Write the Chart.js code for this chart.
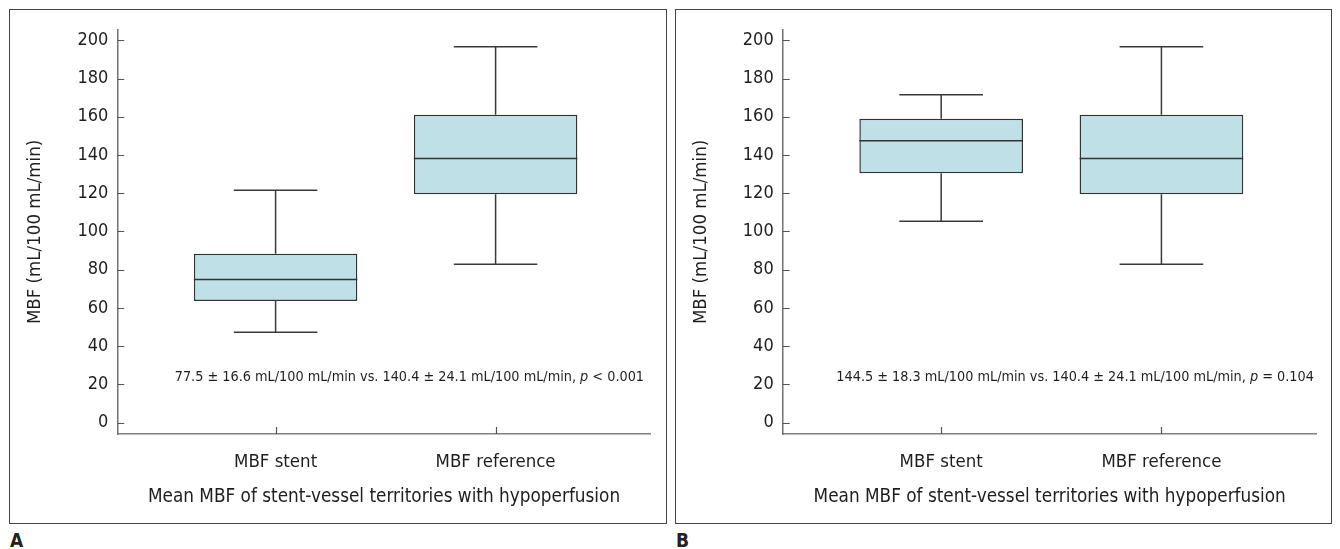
<!DOCTYPE html>
<html>
<head>
<meta charset="utf-8">
<script src="https://cdn.jsdelivr.net/npm/chart.js@4.4.1/dist/chart.umd.min.js"></script>
<style>
    body { margin: 0; width: 1340px; height: 549px; background: #fff; position: relative; overflow: hidden; font-family: "DejaVu Sans Condensed", "DejaVu Sans", sans-serif; }
    .panel { position: absolute; top: 9px; height: 515px; box-sizing: border-box; border: 1px solid #444; }
    .panel canvas { display: block; }
    .tag { position: absolute; top: 529px; font-weight: bold; font-size: 19px; color: #222; }
</style>
</head>
<body>
<div class="panel" style="left: 9px; width: 658px;"><canvas id="graficoA" width="656" height="513"></canvas></div>
<div class="panel" style="left: 675px; width: 657px;"><canvas id="graficoB" width="655" height="513"></canvas></div>
<div class="tag" style="left: 10px;">A</div>
<div class="tag" style="left: 676px;">B</div>

<script>
const categorias = ['MBF stent', 'MBF reference'];
const ticksY = [0, 20, 40, 60, 80, 100, 120, 140, 160, 180, 200];

// painel A
const minA = [47.2, 82.8];
const q1A = [63.6, 119.5];
const medianaA = [74.8, 138.1];
const q3A = [88.3, 161.0];
const maxA = [121.6, 196.6];
const notaA = ['77.5 ± 16.6 mL/100 mL/min vs. 140.4 ± 24.1 mL/100 mL/min, ', 'p', ' < 0.001'];

// painel B
const minB = [105.3, 82.8];
const q1B = [130.4, 119.5];
const medianaB = [147.4, 138.1];
const q3B = [159.0, 161.0];
const maxB = [171.5, 196.6];
const notaB = ['144.5 ± 18.3 mL/100 mL/min vs. 140.4 ± 24.1 mL/100 mL/min, ', 'p', ' = 0.104'];

const fonte = '"DejaVu Sans Condensed", "DejaVu Sans", sans-serif';
const meiaCaixa = 0.3715;
const meiaBarra = 0.19;

// tracinhos para dentro + texto da nota
const extras = {
    id: 'extras',
    afterDraw(chart) {
        const ctx = chart.ctx;
        const area = chart.chartArea;
        const x = chart.scales.x;
        const y = chart.scales.y;

        ctx.save();
        ctx.strokeStyle = '#555';
        ctx.lineWidth = 1.2;
        ctx.beginPath();
        y.ticks.forEach((t, i) => {
            const py = Math.round(y.getPixelForTick(i)) + 0.5;
            ctx.moveTo(area.left, py);
            ctx.lineTo(area.left + 7, py);
        });
        x.ticks.forEach((t, i) => {
            const px = Math.round(x.getPixelForTick(i)) + 0.5;
            ctx.moveTo(px, area.bottom);
            ctx.lineTo(px, area.bottom - 7);
        });
        ctx.stroke();

        const nota = chart.options.plugins.extras.nota;
        const normal = '14.3px ' + fonte;
        const italico = 'italic 14.3px ' + fonte;
        ctx.fillStyle = '#1e1e1e';
        ctx.textBaseline = 'middle';
        ctx.font = normal;
        const w0 = ctx.measureText(nota[0]).width;
        const w2 = ctx.measureText(nota[2]).width;
        ctx.font = italico;
        const w1 = ctx.measureText(nota[1]).width;
        let px = x.getPixelForValue(1.608) - (w0 + w1 + w2) / 2;
        const py = y.getPixelForValue(23.6);
        ctx.font = normal;
        ctx.fillText(nota[0], px, py);
        px += w0;
        ctx.font = italico;
        ctx.fillText(nota[1], px, py);
        px += w1;
        ctx.font = normal;
        ctx.fillText(nota[2], px, py);
        ctx.restore();
    }
};

function grafico(id, min, q1, mediana, q3, max, nota, larguraY, direita) {
    const caixas = categorias.map((c, i) => ({ x: i + 1, y: [q1[i], q3[i]] }));

    const bigodes = [];
    const barras = [];
    const medianas = [];
    categorias.forEach((c, i) => {
        const cx = i + 1;
        bigodes.push({ x: cx, y: q3[i] }, { x: cx, y: max[i] }, { x: cx, y: null });
        bigodes.push({ x: cx, y: q1[i] }, { x: cx, y: min[i] }, { x: cx, y: null });
        barras.push({ x: cx - meiaBarra, y: max[i] }, { x: cx + meiaBarra, y: max[i] }, { x: cx, y: null });
        barras.push({ x: cx - meiaBarra, y: min[i] }, { x: cx + meiaBarra, y: min[i] }, { x: cx, y: null });
        medianas.push({ x: cx - meiaCaixa, y: mediana[i] }, { x: cx + meiaCaixa, y: mediana[i] }, { x: cx, y: null });
    });

    const linha = {
        type: 'line',
        pointRadius: 0,
        borderWidth: 1.5,
        borderColor: '#3a3a3a',
        fill: false,
        tension: 0,
        spanGaps: false,
        order: 1
    };

    new Chart(document.getElementById(id), {
        type: 'bar',
        data: {
            datasets: [
                {
                    data: caixas,
                    backgroundColor: '#bfe0e6',
                    borderColor: '#333',
                    borderWidth: 1.5,
                    borderSkipped: false,
                    categoryPercentage: 1,
                    barPercentage: 0.743,
                    order: 2
                },
                Object.assign({ data: bigodes }, linha),
                Object.assign({ data: barras }, linha),
                Object.assign({ data: medianas }, linha, { borderColor: '#333' })
            ]
        },
        options: {
            responsive: false,
            animation: false,
            layout: { padding: { left: 0, right: direita, top: 15, bottom: 0 } },
            plugins: {
                legend: { display: false },
                tooltip: { enabled: false },
                extras: { nota: nota }
            },
            scales: {
                x: {
                    type: 'linear',
                    min: 0.2805,
                    max: 2.705,
                    offset: false,
                    grid: { display: false, drawTicks: false, offset: false },
                    border: { color: '#808080', width: 1.5 },
                    afterBuildTicks: s => { s.ticks = [{ value: 1 }, { value: 2 }]; },
                    afterFit: s => { s.height = 89; },
                    ticks: {
                        padding: 17,
                        color: '#1e1e1e',
                        font: { family: fonte, size: 18.5 },
                        callback: v => categorias[v - 1]
                    },
                    title: {
                        display: true,
                        text: 'Mean MBF of stent-vessel territories with hypoperfusion',
                        color: '#1e1e1e',
                        font: { family: fonte, size: 18.8 },
                        padding: { top: 0, bottom: 15 }
                    }
                },
                y: {
                    min: -6,
                    max: 205.5,
                    grid: { display: false, drawTicks: false },
                    border: { color: '#707070', width: 1.5 },
                    afterBuildTicks: s => { s.ticks = ticksY.map(v => ({ value: v })); },
                    afterFit: s => { s.width = larguraY; },
                    ticks: {
                        padding: 9,
                        color: '#1e1e1e',
                        font: { family: fonte, size: 18 }
                    },
                    title: {
                        display: true,
                        text: 'MBF (mL/100 mL/min)',
                        color: '#1e1e1e',
                        font: { family: fonte, size: 18.5 },
                        padding: { top: 14, bottom: 0 }
                    }
                }
            }
        },
        plugins: [extras]
    });
}

grafico('graficoA', minA, q1A, medianaA, q3A, maxA, notaA, 107.3, 15.3);
grafico('graficoB', minB, q1B, medianaB, q3B, maxB, notaB, 106.7, 14.3);
</script>
</body>
</html>
